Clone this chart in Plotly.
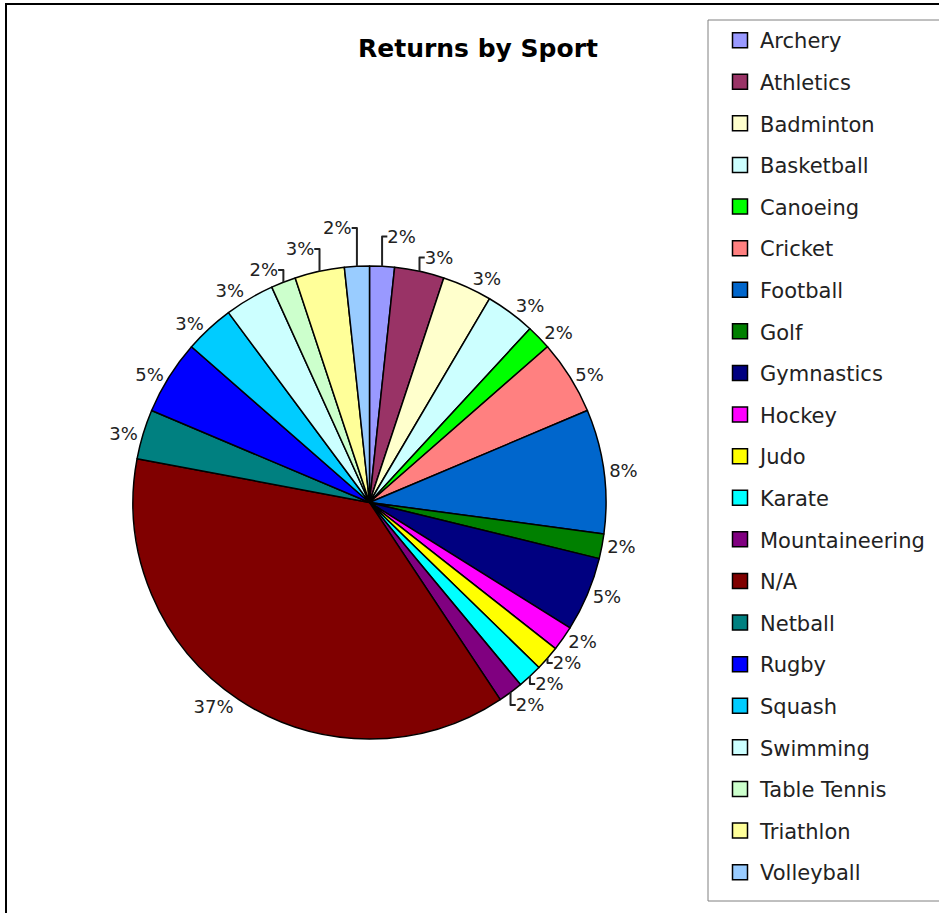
import plotly.graph_objects as go

# Returns per sport (counts), in legend / slice order
sports = ["Archery", "Athletics", "Badminton", "Basketball", "Canoeing", "Cricket",
          "Football", "Golf", "Gymnastics", "Hockey", "Judo", "Karate",
          "Mountaineering", "N/A", "Netball", "Rugby", "Squash", "Swimming",
          "Table Tennis", "Triathlon", "Volleyball"]
returns = [1, 2, 2, 2, 1, 3, 5, 1, 3, 1, 1, 1, 1, 22, 2, 3, 2, 2, 1, 2, 1]
colors = ["#9999FF", "#993366", "#FFFFCC", "#CCFFFF", "#00FF00", "#FF8080",
          "#0066CC", "#008000", "#000080", "#FF00FF", "#FFFF00", "#00FFFF",
          "#800080", "#800000", "#008080", "#0000FF", "#00CCFF", "#CCFFFF",
          "#CCFFCC", "#FFFF99", "#99CCFF"]

W, H = 939, 913
FONT = "DejaVu Sans"

fig = go.Figure()

fig.add_trace(go.Pie(
    labels=sports,
    values=returns,
    sort=False,
    direction="clockwise",
    rotation=0,
    marker=dict(colors=colors, line=dict(color="black", width=1.5)),
    textposition="outside",
    texttemplate="%{percent:.0%}",
    textfont=dict(family=FONT, size=18, color="#222222"),
    outsidetextfont=dict(family=FONT, size=18, color="#222222"),
    showlegend=False,
    hoverinfo="label+value+percent",
    domain=dict(x=[130 / W, 609 / W], y=[1 - 739 / H, 1 - 266 / H]),
))

# Legend entries, one per sport, with square swatches
for name, col in zip(sports, colors):
    fig.add_trace(go.Scatter(
        x=[None], y=[None], mode="markers", name=name,
        legendgroup=name,
        marker=dict(symbol="square", size=15, color=col,
                    line=dict(color="black", width=1.5)),
    ))

fig.update_layout(
    width=W, height=H,
    margin=dict(l=0, r=0, t=0, b=0),
    paper_bgcolor="white",
    plot_bgcolor="white",
    xaxis=dict(visible=False),
    yaxis=dict(visible=False),
    title=dict(text="<b>Returns by Sport</b>", x=478 / W, xanchor="center",
               y=1 - 48 / H, yanchor="middle",
               font=dict(family=FONT, size=25, color="black")),
    legend=dict(
        x=720 / W, xanchor="left", y=1 - 20 / H, yanchor="top",
        borderwidth=0, bgcolor="rgba(0,0,0,0)",
        font=dict(family=FONT, size=21, color="#222222"),
        traceorder="grouped", tracegroupgap=11.3,
        itemclick=False,
    ),
    shapes=[
        # chart area frame
        dict(type="rect", xref="paper", yref="paper",
             x0=6 / W, x1=1.05, y0=-0.05, y1=1 - 4 / H,
             line=dict(color="black", width=2)),
        # legend frame
        dict(type="rect", xref="paper", yref="paper",
             x0=708 / W, x1=1.05, y0=1 - 901 / H, y1=1 - 20 / H,
             line=dict(color="#808080", width=1)),
    ],
)

fig.write_html("out.html")
